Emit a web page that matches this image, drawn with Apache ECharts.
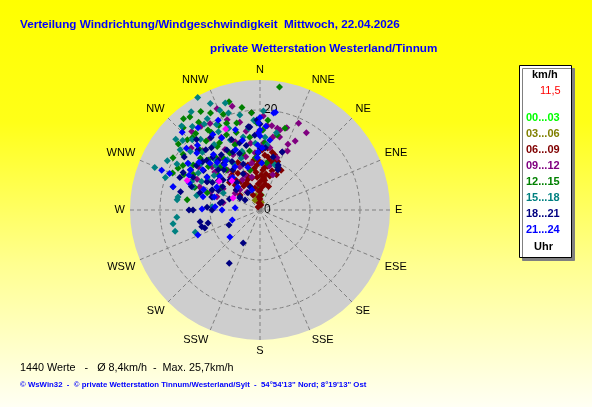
<html>
<head>
    <meta charset="utf-8" />
    <title>Windverteilung</title>
    <script src="https://cdn.jsdelivr.net/npm/echarts@6/dist/echarts.min.js"></script>
    <style>
        html, body { margin: 0; padding: 0; }
    </style>
</head>
<body>
<div id="windChart" style="width: 592px;height:407px;"></div>
<script type="text/javascript">
    // 16 Himmelsrichtungen, im Uhrzeigersinn ab Nord
    var directions = ['N', 'NNE', 'NE', 'ENE', 'E', 'ESE', 'SE', 'SSE',
                      'S', 'SSW', 'SW', 'WSW', 'W', 'WNW', 'NW', 'NNW'];
    var speedMax = 26;

    var periods = ['00...03', '03...06', '06...09', '09...12', '12...15', '15...18', '18...21', '21...24'];

    // Werte als [km/h, Richtung in Grad]
    var wind0003 = [[4.4, 358], [2.0, 350], [3.0, 5]];
    var wind0306 = [[2.2, 333], [1.5, 10], [3.0, 345]];
    var wind0609 = [[0.7, 326], [1.4, 352], [2.2, 0], [3.0, 4], [3.8, 357], [4.6, 5], [5.2, 356], [5.8, 2],
        [6.45, 7], [7.3, 9.5], [8.0, 4], [8.9, 10], [10.0, 11.5], [10.7, 8.6], [9.8, 16.6], [9.25, 21.6],
        [8.2, 17], [5.3, 11], [6.6, 355], [6.6, 346], [6.5, 337], [6.8, 326], [7.7, 321], [7.8, 337],
        [8.2, 346], [8.6, 329], [9.0, 321], [4.5, 347], [5.2, 337], [9.4, 2.4], [9.0, 356], [10.1, 353],
        [12.0, 2], [12.5, 7], [11.4, 15], [5.8, 326], [3.3, 335], [7.6, 354], [7.1, 16], [9.3, 345],
        [6.2, 310], [5.0, 307], [11.0, 5], [11.8, 12], [10.5, 18], [9.5, 13], [8.5, 6], [7.0, 2], [6.0, 9],
        [4.0, 0], [2.6, 356], [1.0, 10], [8.8, 24], [10.3, 20], [12.8, 3], [9.8, 359], [8.4, 352], [7.2, 340],
        [6.0, 333], [7.0, 315], [8.2, 312], [9.5, 325], [10.5, 335], [11.3, 342], [9.0, 28], [7.8, 25], [5.0, 20]];
    var wind0912 = [[19.5, 355], [16.9, 5], [16.7, 12], [16.5, 14], [18.0, 31], [14.3, 23], [12.4, 21],
        [12.6, 9], [7.5, 20], [7.6, 337], [5.7, 315], [4.4, 324], [17.3, 18], [15.1, 15], [20.8, 319],
        [19.2, 340], [18.0, 347], [16.5, 316], [13.2, 319], [10.2, 321], [9.5, 335], [7.5, 281], [6.0, 304],
        [12.9, 312], [10.0, 307], [12.9, 291], [12.3, 334], [13.5, 352], [9.0, 287], [13.4, 3], [14.8, 10],
        [15.6, 359], [11.0, 345], [8.5, 300], [14.0, 330], [17.5, 325], [18.8, 2], [17.0, 8], [15.5, 27],
        [13.0, 25], [11.0, 18], [9.0, 12], [19.0, 24], [21.5, 345], [20.0, 330], [18.5, 312], [15.0, 305],
        [12.0, 298], [10.5, 290], [14.5, 340], [16.0, 350], [11.5, 355], [9.5, 350], [7.0, 330], [13.0, 322],
        [16.5, 332], [20.5, 325], [11.8, 310], [8.8, 318], [6.8, 346], [22.0, 337], [14.0, 296]];
    var wind1215 = [[24.9, 9], [23.0, 329], [15.4, 13], [17.1, 17], [19.8, 317], [20.2, 314], [20.3, 301],
        [18.4, 297], [14.7, 278], [14.4, 314], [15.3, 326], [19.1, 327], [18.6, 339], [18.0, 345], [14.7, 352],
        [17.4, 358], [8.2, 346], [13.8, 289], [12.5, 302], [11.7, 317], [12.9, 332], [23.3, 323], [21.4, 325],
        [11.1, 288], [15.1, 298], [11.9, 343], [9.5, 8], [15.7, 329], [17.1, 315], [16.1, 304], [18.3, 328],
        [10.5, 320], [13.5, 310], [16.5, 336], [20.5, 339], [9.0, 300], [22.5, 317], [21.8, 333], [22.5, 344],
        [20.8, 350], [19.5, 355], [18.0, 5], [16.0, 2], [21.0, 309], [19.0, 306], [17.5, 322], [16.2, 343],
        [14.0, 339], [12.5, 325], [13.8, 320], [15.8, 311], [17.8, 300], [19.0, 293], [10.8, 310], [12.0, 350],
        [10.5, 355], [13.5, 4], [20.0, 320], [18.8, 334], [23.8, 320], [16.8, 295]];
    var wind1518 = [[25.7, 331], [22.7, 292], [20.0, 289], [16.6, 279], [16.7, 265], [17.6, 261], [13.7, 251],
        [20.0, 307], [19.5, 316], [21.1, 330], [21.5, 338], [20.4, 342], [19.4, 348], [17.7, 332], [14.4, 301],
        [12.0, 300], [15.2, 337], [15.0, 347], [13.4, 356], [14.6, 4], [13.1, 6], [9.5, 18], [9.8, 285],
        [9.6, 274], [14.2, 289], [8.1, 295], [16.7, 277], [17.5, 256], [18.5, 320], [16.0, 325], [12.5, 315],
        [10.8, 330], [22.0, 310], [11.0, 340], [13.0, 296], [17.0, 303], [24.0, 325], [23.0, 317], [23.5, 335],
        [22.5, 342], [21.0, 298], [19.0, 299], [18.0, 285], [21.5, 321], [20.5, 327], [19.2, 333], [17.5, 339],
        [16.3, 315], [15.0, 308], [13.5, 318], [12.0, 327], [14.8, 293], [18.2, 310], [13.0, 283], [11.5, 307],
        [16.5, 352], [18.0, 356], [19.8, 2], [15.8, 12], [12.3, 343], [20.8, 312]];
    var wind1821 = [[12.2, 259], [12.1, 254], [11.6, 252], [10.7, 256], [14.2, 270], [6.9, 244], [7.4, 207],
        [12.3, 210], [9.6, 270], [7.8, 282], [4.8, 303], [4.2, 325], [12.4, 21], [8.8, 24], [9.7, 22],
        [12.4, 0], [16.7, 353], [3.6, 304], [4.7, 301], [13.4, 270], [17.3, 314], [14.6, 313], [11.6, 314],
        [9.5, 309], [12.5, 286], [10.4, 293], [9.7, 326], [14.0, 343], [16.8, 352], [13.7, 331], [14.9, 296],
        [17.1, 296], [17.3, 292], [8.1, 280], [10.6, 273], [10.9, 14], [9.3, 23], [11.4, 358], [5.0, 337],
        [13.0, 320], [11.0, 300], [15.5, 305], [8.5, 315], [12.0, 340], [15.8, 322], [10.0, 285], [6.5, 290],
        [18.5, 305], [16.0, 300], [15.0, 310], [14.2, 318], [13.5, 325], [12.8, 335], [11.8, 322], [10.8, 318],
        [10.2, 305], [9.2, 295], [8.8, 302], [16.2, 318], [17.5, 326], [15.2, 338], [13.2, 348], [15.0, 356],
        [17.2, 0], [18.0, 358], [12.5, 5], [8.0, 335], [7.2, 320], [6.2, 310], [14.5, 289], [16.3, 283],
        [12.0, 298], [11.2, 330], [9.8, 340], [19.0, 318], [13.8, 305]];
    var wind2124 = [[19.8, 9], [17.4, 359], [16.0, 0], [13.0, 358], [11.6, 358], [14.1, 8], [21.2, 292],
        [18.0, 285], [18.0, 316], [16.3, 332], [16.8, 343], [14.4, 346], [16.1, 300], [13.7, 313], [12.5, 302],
        [5.9, 250], [8.1, 228], [13.4, 248], [9.0, 274], [11.7, 283], [6.4, 316], [8.9, 344], [9.8, 298],
        [19.5, 292], [15.2, 291], [11.6, 271], [7.6, 270], [19.6, 8], [15.4, 359], [9.4, 2], [5.0, 275],
        [4.3, 338], [12.0, 325], [10.5, 310], [14.5, 320], [18.5, 0], [16.8, 4], [14.8, 0], [12.4, 2],
        [10.5, 357], [19.2, 310], [17.2, 303], [15.5, 308], [14.0, 305], [12.8, 318], [11.5, 322], [17.8, 328],
        [19.8, 335], [20.6, 323], [13.0, 338], [10.0, 330], [8.5, 320], [22.0, 315], [17.0, 312], [15.8, 296],
        [12.0, 290], [9.5, 286]];
    // einzelne magenta Punkte
    var windMarked = [[15.7, 292], [8.1, 316], [5.9, 294], [17.6, 337], [10.0, 305]];

    var windData = [wind0003, wind0306, wind0609, wind0912, wind1215, wind1518, wind1821, wind2124];
    var periodColors = ['#00ff00', '#808000', '#800000', '#800080', '#008000', '#008080', '#000080', '#0000ff'];

    function renderWindChart() {
        var chartDom = document.getElementById('windChart');
        var windChart = echarts.init(chartDom);
        var font = 'Liberation Sans, Arial, sans-serif';

        var series = periods.map(function (name, i) {
            return {
                name: name,
                type: 'scatter',
                coordinateSystem: 'polar',
                polarIndex: 1,
                symbol: 'diamond',
                symbolSize: 7,
                itemStyle: { color: periodColors[i], opacity: 1 },
                data: windData[i]
            };
        });
        series.push({
            name: 'markiert',
            type: 'scatter',
            coordinateSystem: 'polar',
            polarIndex: 1,
            symbol: 'diamond',
            symbolSize: 7,
            itemStyle: { color: '#ff00ff', opacity: 1 },
            data: windMarked
        });

        var option = {
            backgroundColor: {
                type: 'linear', x: 0, y: 0, x2: 0, y2: 1,
                colorStops: [
                    { offset: 0, color: '#ffff00' },
                    { offset: 0.3, color: '#ffff18' },
                    { offset: 0.65, color: '#ffff90' },
                    { offset: 1, color: '#fffff4' }
                ]
            },
            animation: false,
            title: [
                {
                    text: 'Verteilung Windrichtung/Windgeschwindigkeit  Mittwoch, 22.04.2026',
                    left: 20, top: 19, padding: 0,
                    textStyle: { color: '#0000ff', fontSize: 11.7, fontWeight: 'bold', fontFamily: font }
                },
                {
                    text: 'private Wetterstation Westerland/Tinnum',
                    left: 210, top: 43, padding: 0,
                    textStyle: { color: '#0000ff', fontSize: 11.7, fontWeight: 'bold', fontFamily: font }
                },
                {
                    text: '1440 Werte   -   \u00d8 8,4km/h  -  Max. 25,7km/h',
                    left: 20, top: 363, padding: 0,
                    textStyle: { color: '#000000', fontSize: 10.8, fontWeight: 'normal', fontFamily: font }
                },
                {
                    text: '\u00a9 WsWin32  -  \u00a9 private Wetterstation Tinnum/Westerland/Sylt  -  54\u00b054\'13" Nord; 8\u00b019\'13" Ost',
                    left: 20, top: 381, padding: 0,
                    textStyle: { color: '#0000ff', fontSize: 7.8, fontWeight: 'bold', fontFamily: font }
                }
            ],
            legend: {
                orient: 'vertical',
                left: 521, top: 112,
                icon: 'none',
                itemWidth: 0, itemHeight: 11, itemGap: 5,
                selectedMode: false,
                padding: 0,
                z: 10,
                textStyle: { fontSize: 11, fontWeight: 'bold', fontFamily: font },
                data: periods.map(function (name, i) {
                    return { name: name, textStyle: { color: periodColors[i] } };
                })
            },
            graphic: [
                {
                    type: 'rect', z: 1,
                    shape: { x: 519.5, y: 65.5, width: 52, height: 192 },
                    style: { fill: '#ffffff', stroke: '#000000', lineWidth: 1,
                             shadowColor: '#808080', shadowOffsetX: 3, shadowOffsetY: 3, shadowBlur: 0 }
                },
                {
                    type: 'text', z: 2, left: 532, top: 69,
                    style: { text: 'km/h', fill: '#000000', font: 'bold 11px ' + font }
                },
                {
                    type: 'text', z: 2, left: 540, top: 85,
                    style: { text: '11,5', fill: '#ff0000', font: '11px ' + font }
                },
                {
                    type: 'text', z: 2, left: 534, top: 241,
                    style: { text: 'Uhr', fill: '#000000', font: 'bold 11px ' + font }
                }
            ],
            // Polar 0: graue Scheibe, Polar 1: Gitter, Beschriftung und Punkte
            polar: [
                { center: [260, 210], radius: 130 },
                { center: [260, 210], radius: 130 }
            ],
            angleAxis: [
                {
                    polarIndex: 0,
                    type: 'value', min: 0, max: 360, interval: 22.5, startAngle: 90,
                    axisLine: { show: false },
                    axisTick: { show: false },
                    axisLabel: { show: false },
                    splitLine: { show: false },
                    splitArea: { show: true, areaStyle: { color: ['#cecece'] } },
                    z: 0
                },
                {
                    polarIndex: 1,
                    type: 'value', min: 0, max: 360, interval: 22.5, startAngle: 90,
                    clockwise: true,
                    axisLine: { show: false },
                    axisTick: { show: false },
                    axisLabel: {
                        margin: 5,
                        color: '#000000',
                        fontSize: 11,
                        fontFamily: font,
                        formatter: function (v) {
                            if (v >= 360) return '';
                            return directions[Math.round(v / 22.5) % 16];
                        }
                    },
                    splitLine: { show: true, lineStyle: { color: '#808080', type: [4, 3], width: 1 } },
                    splitArea: { show: false },
                    z: 1
                }
            ],
            radiusAxis: [
                {
                    polarIndex: 0,
                    type: 'value', min: 0, max: speedMax,
                    axisLine: { show: false },
                    axisTick: { show: false },
                    axisLabel: { show: false },
                    splitLine: { show: false },
                    z: 0
                },
                {
                    polarIndex: 1,
                    type: 'value', min: 0, max: speedMax, interval: 10,
                    axisLine: { show: false },
                    axisTick: { show: false },
                    axisLabel: {
                        color: '#000000',
                        fontSize: 12,
                        fontFamily: font,
                        align: 'left',
                        verticalAlign: 'middle',
                        margin: -4,
                        formatter: function (v) { return v === speedMax ? '' : v; }
                    },
                    splitLine: {
                        show: true,
                        lineStyle: { color: ['#808080', '#808080', '#808080', 'rgba(0,0,0,0)'], type: [4, 3], width: 1 }
                    },
                    z: 1
                }
            ],
            series: series
        };
        windChart.setOption(option);
    }

    renderWindChart();
</script>
</body>
</html>
